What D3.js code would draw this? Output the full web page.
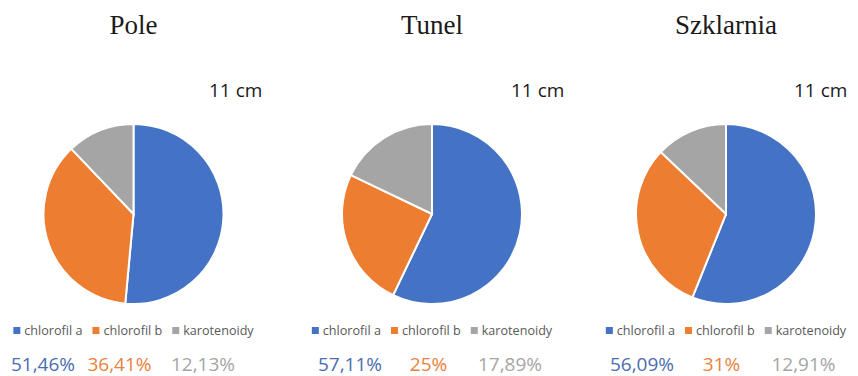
<!DOCTYPE html>
<html>
<head>
<meta charset="utf-8">
<script src="https://cdn.jsdelivr.net/npm/d3@7"></script>
<style>
  body { margin: 0; background: #fff; }
  svg { display: block; }
</style>
</head>
<body>
<svg id="chart" width="858" height="376"></svg>
<script>
const width = 858
const height = 376

// data
const panels = ['Pole', 'Tunel', 'Szklarnia']
const series = ['chlorofil a', 'chlorofil b', 'karotenoidy']
const pole = [51.46, 36.41, 12.13]
const tunel = [57.11, 25, 17.89]
const szklarnia = [56.09, 31, 12.91]
const valueLabels = [
    ['51,46%', '36,41%', '12,13%'],
    ['57,11%', '25%', '17,89%'],
    ['56,09%', '31%', '12,91%']
]
const heightLabel = '11 cm'

const values = [pole, tunel, szklarnia]
const colors = ['#4472c4', '#ed7d31', '#a5a5a5']
const textColors = ['#4a6db0', '#e8823e', '#a5a5a5']

// layout
const centersX = [133.5, 432, 726]
const centerY = 214
const radius = 90
const cmX = [209, 511, 794]
const labelX = [[43, 119.5, 203], [350, 428.5, 510], [642, 721.5, 803.5]]

const svg = d3.select('#chart')
const color = d3.scaleOrdinal().domain(series).range(colors)
const pie = d3.pie().sort(null).value(d => d.value)
const arc = d3.arc().innerRadius(0).outerRadius(radius)

panels.forEach((name, p) => {
    const g = svg.append('g')

    g.append('text')
    .text(name)
    .attr('x', centersX[p])
    .attr('y', 34)
    .attr('text-anchor', 'middle')
    .attr('font-family', 'Liberation Serif, Times New Roman, serif')
    .attr('font-size', 27)
    .attr('fill', '#1a1a1a')

    g.append('text')
    .text(heightLabel)
    .attr('x', cmX[p])
    .attr('y', 97)
    .attr('font-family', 'Open Sans, sans-serif')
    .attr('font-size', 19)
    .attr('fill', '#1a1a1a')

    const rows = series.map((s, i) => ({ name: s, value: values[p][i] }))
    g.append('g')
    .attr('transform', `translate(${centersX[p]},${centerY})`)
    .selectAll('path')
    .data(pie(rows))
    .enter()
    .append('path')
    .attr('d', arc)
    .attr('fill', d => color(d.data.name))
    .attr('stroke', '#fff')
    .attr('stroke-width', 2)

    // legend
    const legend = g.append('g')
    let x = 0
    series.forEach((s, i) => {
        legend.append('rect')
        .attr('x', x)
        .attr('y', -8)
        .attr('width', 7)
        .attr('height', 7)
        .attr('fill', color(s))
        const t = legend.append('text')
        .text(s)
        .attr('x', x + 11)
        .attr('y', 0)
        .attr('font-family', 'Open Sans, sans-serif')
        .attr('font-size', 12.6)
        .attr('fill', '#595959')
        x += 11 + t.node().getComputedTextLength() + 10
    })
    const legendWidth = x - 10
    legend.attr('transform', `translate(${centersX[p] - legendWidth / 2},335)`)

    // values under legend
    valueLabels[p].forEach((lbl, i) => {
        g.append('text')
        .text(lbl)
        .attr('x', labelX[p][i])
        .attr('y', 371)
        .attr('text-anchor', 'middle')
        .attr('font-family', 'Open Sans, sans-serif')
        .attr('font-size', 19)
        .attr('fill', textColors[i])
    })
})
</script>
</body>
</html>
